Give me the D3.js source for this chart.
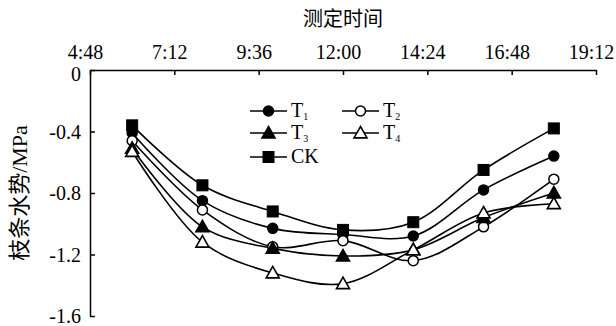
<!DOCTYPE html>
<html><head><meta charset="utf-8">
<script src="https://cdn.jsdelivr.net/npm/d3@7"></script>
<style>body{margin:0;background:#fff}svg{display:block}</style>
</head><body>
<script>
const times = [6, 8, 10, 12, 14, 16, 18];
const xTickValues = [4.8, 7.2, 9.6, 12, 14.4, 16.8, 19.2];
const xTickLabels = ["4:48", "7:12", "9:36", "12:00", "14:24", "16:48", "19:12"];
const yTickValues = [0, -0.4, -0.8, -1.2, -1.6];
const yTickLabels = ["0", "-0.4", "-0.8", "-1.2", "-1.6"];
const T1 = [-0.41, -0.85, -1.03, -1.07, -1.08, -0.78, -0.56];
const T2 = [-0.46, -0.91, -1.15, -1.11, -1.24, -1.02, -0.71];
const T3 = [-0.51, -1.02, -1.16, -1.21, -1.17, -0.96, -0.80];
const T4 = [-0.53, -1.12, -1.32, -1.39, -1.17, -0.93, -0.87];
const CK = [-0.36, -0.75, -0.92, -1.04, -0.99, -0.65, -0.38];
const seriesNames = ["T1", "T2", "T3", "T4", "CK"];

const series = [
  {name: "T", sub: "1", vals: T1, marker: "circle", fill: "#000"},
  {name: "T", sub: "2", vals: T2, marker: "circle", fill: "#fff"},
  {name: "T", sub: "3", vals: T3, marker: "triangle", fill: "#000"},
  {name: "T", sub: "4", vals: T4, marker: "triangle", fill: "#fff"},
  {name: "CK", sub: "", vals: CK, marker: "square", fill: "#000"}
];

const SERIF = "'Liberation Serif', 'Times New Roman', Times, 'DejaVu Serif', serif";
const CJK = "'Noto Sans CJK SC', sans-serif";

const W = 616, H = 326;
const svg = d3.select("body").append("svg").attr("width", W).attr("height", H);
const x = d3.scaleLinear().domain([4.8, 19.2]).range([90, 596]);
const y = d3.scaleLinear().domain([0, -1.6]).range([70, 316]);

// top axis
const gx = svg.append("g").attr("transform", `translate(0,${y(0)})`)
  .call(d3.axisTop(x).tickValues(xTickValues).tickFormat((d, i) => xTickLabels[i])
    .tickSizeInner(-5).tickSizeOuter(0).tickPadding(11));
gx.attr("font-family", SERIF).attr("font-size", 20);
gx.selectAll("text").style("font-family", SERIF).style("font-size", "20px")
  .attr("fill", "#000").attr("x", -5);
gx.selectAll("line,path").attr("stroke", "#000").attr("stroke-width", 1.5);

// left axis
const gy = svg.append("g").attr("transform", `translate(${x(4.8)},0)`)
  .call(d3.axisLeft(y).tickValues(yTickValues).tickFormat((d, i) => yTickLabels[i])
    .tickSizeInner(-5).tickSizeOuter(0).tickPadding(9));
gy.attr("font-family", SERIF).attr("font-size", 20);
gy.selectAll("text").style("font-family", SERIF).style("font-size", "20px").attr("fill", "#000")
  .attr("dy", (d, i) => i === 0 ? "0.5em" : "0.34em");
gy.selectAll("line,path").attr("stroke", "#000").attr("stroke-width", 1.5);

// titles
svg.append("text").attr("x", x(12)).attr("y", 26).attr("text-anchor", "middle")
  .style("font-family", CJK).style("font-size", "20px").attr("fill", "#000").text("测定时间");
const yl = svg.append("text")
  .attr("transform", `translate(27,${y(-0.8)}) rotate(-90)`)
  .attr("text-anchor", "middle").style("font-family", CJK).style("font-size", "22px").attr("fill", "#000");
yl.append("tspan").text("枝条水势");
yl.append("tspan").style("font-family", SERIF).text("/MPa");

function drawMarker(g, type, cx, cy, fill) {
  if (type === "circle") {
    g.append("circle").attr("cx", cx).attr("cy", cy).attr("r", 5)
      .attr("fill", fill).attr("stroke", "#000").attr("stroke-width", 1.5);
  } else if (type === "square") {
    g.append("rect").attr("x", cx - 5.5).attr("y", cy - 5.5).attr("width", 11).attr("height", 11)
      .attr("fill", fill).attr("stroke", "#000").attr("stroke-width", 1);
  } else {
    const s = 6.5;
    g.append("path").attr("d", `M${cx},${cy - s}L${cx + s},${cy + s * 0.75}L${cx - s},${cy + s * 0.75}Z`)
      .attr("fill", fill).attr("stroke", "#000").attr("stroke-width", 1.6);
  }
}

const line = d3.line().x((d, i) => x(times[i])).y(d => y(d)).curve(d3.curveCatmullRom.alpha(0.5));
const plot = svg.append("g");
series.forEach(s => {
  plot.append("path").attr("d", line(s.vals)).attr("fill", "none")
    .attr("stroke", "#000").attr("stroke-width", 1.6);
});
series.forEach(s => {
  s.vals.forEach((v, i) => drawMarker(plot, s.marker, x(times[i]), y(v), s.fill));
});

// legend
const legPos = [[250, 111], [342, 111], [250, 133], [342, 133], [250, 157]];
series.forEach((s, i) => {
  const [lx, ly] = legPos[i];
  const g = svg.append("g");
  g.append("line").attr("x1", lx).attr("x2", lx + 37).attr("y1", ly).attr("y2", ly)
    .attr("stroke", "#000").attr("stroke-width", 1.6);
  drawMarker(g, s.marker, lx + 18.5, ly, s.fill);
  const t = g.append("text").attr("x", lx + 41).attr("y", ly + 6)
    .style("font-family", SERIF).style("font-size", "20px").attr("fill", "#000");
  t.append("tspan").text(s.name);
  if (s.sub) t.append("tspan").style("font-size", "10px").attr("dy", 3).text(s.sub);
});
</script>
</body></html>
